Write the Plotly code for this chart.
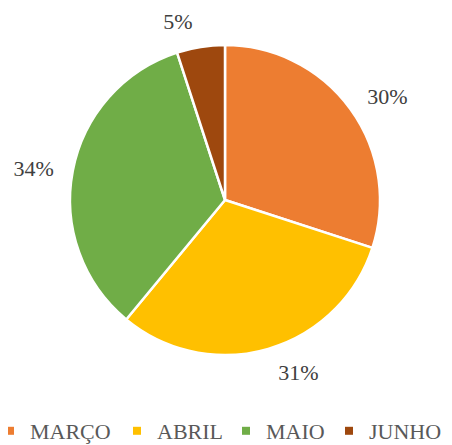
import plotly.graph_objects as go

labels = ["MARÇO", "ABRIL", "MAIO", "JUNHO"]
values = [30, 31, 34, 5]
colors = ["#ED7D31", "#FFC000", "#70AD47", "#9E480E"]

W, H = 452, 445
SERIF = "Liberation Serif, Times New Roman, serif"

# pie geometry in figure pixels
CX, CY, R, RL = 217, 192, 155, 168


def dom(cx, cy, r):
    return dict(x=[(cx - r) / W, (cx + r) / W], y=[1 - (cy + r) / H, 1 - (cy - r) / H])


fig = go.Figure()
# transparent pie that only carries the percentage labels (slightly larger radius)
fig.add_trace(go.Pie(
    labels=labels, values=values, sort=False, direction="clockwise", rotation=0,
    marker=dict(colors=["rgba(0,0,0,0)"] * len(values), line=dict(width=0)),
    texttemplate="%{percent:.0%}", textposition="outside",
    textfont=dict(family=SERIF, size=22, color="#404040"),
    domain=dom(CX, CY, RL), showlegend=False, hoverinfo="skip",
))
# the visible pie
fig.add_trace(go.Pie(
    labels=labels, values=values, sort=False, direction="clockwise", rotation=0,
    marker=dict(colors=colors, line=dict(color="white", width=2.5)),
    textinfo="none",
    domain=dom(CX, CY, R), showlegend=False,
))

# legend entries (small square swatches), one legend per entry
legend_text_x = [19, 146, 255, 358]
legend_names = ["legend", "legend2", "legend3", "legend4"]
legend_layout = {}
for name, lab, col, tx in zip(legend_names, labels, colors, legend_text_x):
    fig.add_trace(go.Scatter(x=[None], y=[None], mode="markers", name=lab,
                             marker=dict(symbol="square", size=8, color=col),
                             legend=name, showlegend=True))
    legend_layout[name] = dict(
        orientation="h", x=(tx - 37) / W, xanchor="left",
        y=1 - 423 / H, yanchor="middle", bgcolor="rgba(0,0,0,0)",
        font=dict(family=SERIF, size=22, color="#595959"),
        itemwidth=30,
    )

fig.update_layout(
    width=W, height=H,
    margin=dict(l=0, r=0, t=0, b=0, autoexpand=False),
    paper_bgcolor="white", plot_bgcolor="rgba(0,0,0,0)",
    font=dict(family=SERIF),
    xaxis=dict(visible=False), yaxis=dict(visible=False),
    **legend_layout,
)
fig.write_html("out.html")
